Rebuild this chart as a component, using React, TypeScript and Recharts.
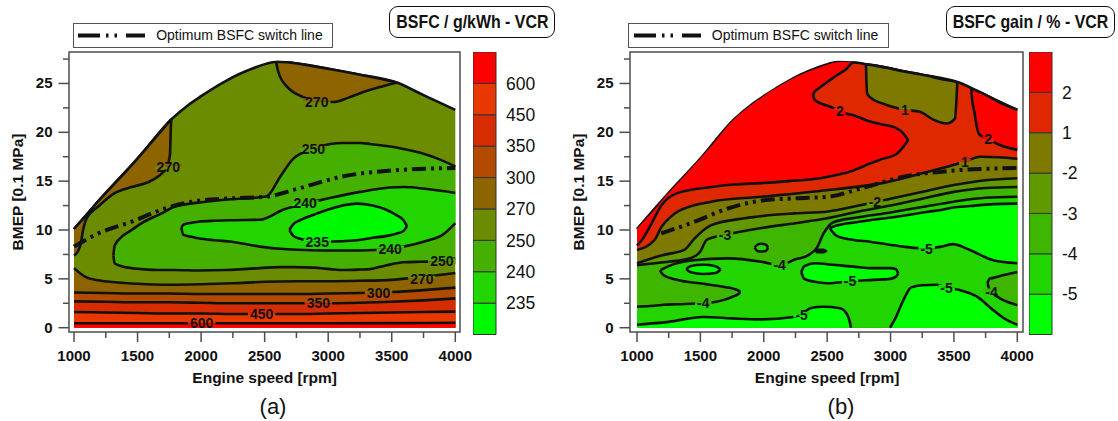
import { Area, Bar, BarChart, ComposedChart, Line, ReferenceArea, Scatter, XAxis, YAxis } from "recharts";

const FONT = "'Liberation Sans', Arial, sans-serif";
const INK = "#111111";
const AXIS_GREY = "#4d4d4d";
const CONTOUR_W = 2.6;

type Pt = [number, number];
type Band = [number, number, number];
type Tag = [string, number, number, string, string];

// axes
const RPM_TICKS = [1000, 1250, 1500, 1750, 2000, 2250, 2500, 2750, 3000, 3250, 3500, 3750, 4000];
const BMEP_TICKS = [0, 2.5, 5, 7.5, 10, 12.5, 15, 17.5, 20, 22.5, 25, 27.5];
const BMEP_DOMAIN: [number, number] = [-0.44, 28.22];
const RPM_DOMAIN_A: [number, number] = [960.7, 4037];
const RPM_DOMAIN_B: [number, number] = [944.8, 4045];

// full load curve, shared by both maps
const ENVELOPE: Pt[] = [
  [1000, 10.1], [1250, 13.8], [1500, 17.3], [1763, 21.3], [1900, 22.8], [2000, 23.7], [2200, 25.3],
  [2400, 26.5], [2590, 27.2], [2700, 27.15], [2850, 26.85], [3000, 26.5], [3250, 25.9], [3540, 25.1],
  [3750, 23.8], [4000, 22.3],
];
const SWITCH_LINE: Pt[] = [
  [1000, 8.3], [1191, 9.65], [1454, 10.85], [1716, 12.2], [1979, 13.0], [2250, 13.25], [2507, 13.4],
  [2753, 14.2], [3120, 15.5], [3514, 16.1], [4000, 16.35],
];

// (a) BSFC g/kWh
const A_LEVELS = ["235", "240", "250", "270", "300", "350", "450", "600"];
const A_BAR_TICKS = [1, 2, 3, 4, 5, 6, 7, 8];
const A_C270: Pt[] = [
  [1000, 6.1], [1090, 5.2], [1190, 4.85], [1500, 4.5], [1750, 4.4], [2000, 4.45], [2250, 4.55], [2500, 4.7],
  [2750, 4.75], [3000, 4.75], [3250, 4.8], [3500, 4.9], [3750, 5.2], [4000, 5.6],
];
const A_C300: Pt[] = [
  [1000, 3.6], [1250, 3.55], [1500, 3.5], [1750, 3.5], [2000, 3.45], [2250, 3.45], [2500, 3.45],
  [2750, 3.45], [3000, 3.5], [3250, 3.55], [3500, 3.65], [3750, 3.85], [4000, 4.1],
];
const A_C350: Pt[] = [
  [1000, 2.7], [1250, 2.65], [1500, 2.6], [1750, 2.6], [2000, 2.55], [2250, 2.5], [2500, 2.5],
  [2750, 2.5], [3000, 2.5], [3250, 2.55], [3500, 2.65], [3750, 2.8], [4000, 3.0],
];
const A_C450: Pt[] = [
  [1000, 1.6], [1250, 1.55], [1500, 1.5], [1750, 1.45], [2000, 1.45], [2250, 1.4], [2500, 1.4],
  [2750, 1.4], [3000, 1.45], [3250, 1.5], [3500, 1.55], [3750, 1.6], [4000, 1.65],
];
const A_C600: Pt[] = [
  [1000, 0.45], [1500, 0.45], [2000, 0.45], [2500, 0.45], [3000, 0.45], [3500, 0.47], [4000, 0.5],
];
const A_LOWSPEED_270: Band[] = [
  [1000, 7.4, 10.1], [1030, 7.8, 10.55], [1055, 8.7, 10.9], [1070, 9.9, 11.1], [1100, 11.2, 11.55],
  [1191, 12.4, 12.95], [1323, 13.8, 14.8], [1454, 14.4, 16.65], [1585, 14.9, 18.6], [1664, 15.5, 19.8],
  [1730, 16.4, 20.8], [1755, 17.7, 21.2], [1762, 20.5, 21.3], [1766, 21.34, 21.34],
];
const A_TOP_270: Band[] = [
  [2590, 27.2, 27.2], [2605, 26.3, 27.2], [2621, 25.7, 27.2], [2674, 24.7, 27.17], [2805, 23.6, 26.95],
  [2914, 23.2, 26.7], [3041, 23.1, 26.4], [3150, 23.5, 26.15], [3251, 24.0, 25.9], [3400, 24.6, 25.5],
  [3540, 25.1, 25.1],
];
const A_UNDER_250: Band[] = [
  [1310, 7.4, 7.4], [1320, 6.6, 8.4], [1375, 6.3, 9.3], [1454, 6.1, 10.0], [1533, 6.0, 10.7],
  [1690, 5.9, 11.7], [1795, 5.9, 12.4], [1979, 5.85, 12.8], [2189, 5.9, 13.1], [2464, 6.1, 13.35],
  [2517, 6.15, 13.45], [2620, 6.2, 15.4], [2726, 6.2, 17.3], [2883, 6.15, 18.3], [3015, 6.0, 18.8],
  [3120, 5.9, 18.9], [3251, 5.95, 18.9], [3330, 6.0, 18.8], [3461, 6.4, 18.6], [3592, 6.7, 18.3],
  [3724, 6.75, 17.9], [3881, 6.8, 17.2], [4000, 7.1, 16.5],
];
const A_UNDER_240: Band[] = [
  [1845, 10.2, 10.2], [1861, 9.5, 10.55], [1927, 9.3, 10.75], [1979, 9.15, 10.85], [2110, 8.95, 10.95],
  [2241, 8.8, 11.0], [2464, 8.3, 11.05], [2650, 8.05, 12.1], [2818, 7.95, 12.7], [2989, 7.9, 13.2],
  [3251, 7.9, 13.9], [3487, 8.1, 14.35], [3592, 8.3, 14.4], [3776, 8.9, 14.2], [3900, 9.5, 14.0],
  [4000, 10.7, 13.8],
];
const A_UNDER_235: Band[] = [
  [2695, 10.0, 10.0], [2726, 9.4, 10.6], [2779, 9.1, 11.0], [2914, 8.8, 11.7], [2989, 8.8, 12.05],
  [3225, 8.95, 12.7], [3350, 9.2, 12.5], [3461, 9.4, 12.05], [3540, 9.65, 11.5], [3592, 9.9, 11.0],
  [3620, 10.4, 10.4],
];
const A_TAGS: Tag[] = [
  ["270", 1742, 16.5, "b270", "b250"], ["270", 2910, 23.15, "b270", "b250"], ["250", 2884, 18.3, "b250", "b240"],
  ["240", 2818, 12.75, "b240", "b235"], ["235", 2914, 8.8, "lt235", "b235"], ["240", 3488, 8.1, "b235", "b240"],
  ["250", 3894, 6.8, "b240", "b250"], ["270", 3737, 5.0, "b250", "b270"], ["300", 3396, 3.55, "b270", "b300"],
  ["350", 2923, 2.5, "b300", "b350"], ["450", 2477, 1.4, "b350", "b450"], ["600", 2005, 0.45, "b450", "gt600"],
];
const A_PALETTE: Record<string, string> = {
  lt235: "#00f800", b235: "#22d400", b240: "#46b000", b250: "#6c8c00", b270: "#8e6400",
  b300: "#b24a00", b350: "#d62c00", b450: "#e83800", gt600: "#ff0000",
};
const A_BAR_COLORS = ["lt235", "b235", "b240", "b250", "b270", "b300", "b350", "b450", "gt600"];

// (b) BSFC gain %
const B_LEVELS = ["-5", "-4", "-3", "-2", "1", "2"];
const B_BAR_TICKS = [1, 2, 3, 4, 5, 6];
const B_RED: Band[] = [
  [1000, 8.4, 10.1], [1040, 9.0, 10.7], [1087, 10.0, 11.35], [1140, 11.3, 12.1], [1192, 12.5, 12.95],
  [1323, 13.8, 14.8], [1586, 14.4, 18.6], [1763, 14.65, 21.3], [1981, 14.8, 23.55], [2200, 15.0, 25.3],
  [2444, 15.3, 26.65], [2600, 15.7, 27.2], [2706, 16.1, 27.15], [2838, 16.8, 21.1], [2917, 17.2, 20.85],
  [3049, 17.8, 20.4], [3100, 18.5, 19.9], [3140, 19.2, 19.2],
];
const B_GAIN2_LOWER: Pt[] = [
  [1000, 8.4], [1040, 9.0], [1087, 10.0], [1140, 11.3], [1192, 12.5], [1323, 13.8], [1586, 14.4],
  [1763, 14.65], [1981, 14.8], [2200, 15.0], [2444, 15.3], [2600, 15.7], [2706, 16.1], [2838, 16.8],
  [2917, 17.2], [3049, 17.8], [3100, 18.5], [3140, 19.2],
];
const B_TONGUE: Band[] = [
  [2388, 23.8, 23.8], [2400, 23.35, 24.15], [2428, 23.1, 24.45], [2507, 22.7, 25.2], [2549, 22.5, 25.6],
  [2654, 21.9, 26.5], [2706, 21.75, 27.15], [2838, 21.1, 26.9], [2917, 20.85, 26.75], [3049, 20.4, 26.4],
  [3100, 19.9, 26.25], [3140, 19.2, 26.15],
];
const B_ISLAND_1: Band[] = [
  [2806, 26.95, 26.95], [2815, 24.0, 26.93], [2838, 23.6, 26.9], [2969, 22.8, 26.6], [3114, 22.3, 26.2],
  [3232, 22.1, 25.95], [3337, 21.3, 25.65], [3442, 20.9, 25.35], [3508, 21.4, 25.2], [3520, 23.3, 25.15],
  [3527, 25.13, 25.13],
];
const B_RIGHT_2: Band[] = [
  [3636, 24.5, 24.5], [3645, 23.2, 24.45], [3660, 22.2, 24.35], [3680, 20.6, 24.25], [3700, 19.8, 24.15],
  [3771, 19.3, 23.7], [3863, 18.7, 23.05], [4000, 18.2, 22.3],
];
const B_C1: Pt[] = [
  [1000, 7.95], [1140, 9.0], [1192, 10.3], [1271, 11.4], [1323, 11.9], [1586, 12.9], [1981, 13.4],
  [2444, 14.0], [2969, 14.9], [3250, 15.8], [3495, 16.65], [3587, 17.0], [3706, 17.5], [3850, 17.45],
  [4000, 17.3],
];
const B_CM2: Pt[] = [
  [1000, 6.6], [1192, 7.4], [1376, 8.0], [1455, 9.15], [1586, 10.5], [1849, 11.2], [2000, 11.45],
  [2244, 11.7], [2507, 11.9], [2750, 12.5], [3000, 13.2], [3250, 13.9], [3500, 14.6], [3750, 15.1],
  [4000, 15.3],
];
const B_CM3: Pt[] = [
  [1000, 6.4], [1100, 6.55], [1250, 6.75], [1420, 7.1], [1500, 7.8], [1550, 9.0], [1694, 9.5],
  [1981, 10.2], [2250, 10.7], [2500, 11.2], [2750, 11.9], [3000, 12.5], [3250, 13.2], [3500, 13.9],
  [3750, 14.3], [4000, 14.4],
];
const B_CM4_LEFT: Pt[] = [[1000, 2.15], [1100, 2.22], [1181, 2.3]];
const B_CM4_UPPER: Pt[] = [
  [1187, 5.9], [1250, 6.3], [1444, 6.9], [1718, 7.1], [1981, 6.75], [2125, 6.4], [2250, 7.0],
  [2349, 7.4], [2420, 8.2], [2470, 9.6], [2550, 10.8], [2750, 11.3], [3000, 11.8], [3250, 12.35],
  [3500, 12.9], [3750, 13.3], [4000, 13.4],
];
const B_HOOK_M4: Band[] = [
  [1181, 2.3, 5.9], [1208, 2.35, 5.4], [1313, 2.4, 4.9], [1523, 2.5, 4.5], [1576, 2.55, 4.4],
  [1700, 2.9, 4.15], [1760, 3.2, 4.0], [1800, 3.45, 3.8], [1815, 3.65, 3.65],
];
const B_LOW_LEFT_M5: Pt[] = [
  [1000, 0.3], [1250, 0.6], [1523, 1.1], [1750, 0.95], [1970, 0.85], [2233, 1.1], [2300, 1.35],
  [2365, 2.0], [2470, 2.15], [2601, 2.0], [2660, 1.3], [2680, 0.5], [2688, 0.0],
];
const B_LOW_RIGHT_M5: Pt[] = [
  [2996, 0.0], [3040, 1.0], [3080, 2.2], [3120, 3.3], [3160, 4.1], [3250, 4.35], [3364, 4.4],
  [3442, 4.1], [3547, 3.85], [3679, 3.2], [3810, 1.8], [3916, 0.8], [4000, 0.3],
];
const B_POCKET_M4: Band[] = [
  [3765, 4.55, 4.55], [3780, 3.9, 5.0], [3810, 3.5, 5.1], [3863, 3.0, 5.3], [3930, 2.6, 5.5], [4000, 2.3, 5.7],
];
const B_MID_M5: Band[] = [
  [2296, 5.7, 5.7], [2320, 5.0, 6.3], [2402, 4.7, 6.6], [2500, 4.55, 6.5], [2706, 4.8, 6.25],
  [2864, 4.9, 6.1], [2996, 5.0, 6.1], [3040, 5.2, 6.0], [3061, 5.55, 5.55],
];
const B_HIGH_M5: Band[] = [
  [2520, 10.2, 10.2], [2575, 9.4, 10.45], [2700, 9.0, 10.75], [2838, 8.8, 11.0], [3101, 8.3, 11.45],
  [3285, 8.1, 11.85], [3400, 8.3, 12.05], [3495, 8.55, 12.3], [3627, 7.95, 12.45], [3811, 6.9, 12.65],
  [4000, 6.6, 12.7],
];
const B_SPOT_M5: Band[] = [[1389, 6.0, 6.0], [1420, 5.7, 6.3], [1521, 5.5, 6.45], [1620, 5.6, 6.3], [1660, 5.95, 5.95]];
const B_SPOT_M4: Band[] = [[1928, 8.2, 8.2], [1950, 7.85, 8.5], [1981, 7.8, 8.6], [2015, 7.85, 8.5], [2035, 8.2, 8.2]];
const B_BLOB: Band[] = [[2400, 7.85, 7.85], [2420, 7.6, 8.1], [2470, 7.6, 8.1], [2505, 7.85, 7.85]];
const B_TAGS: Tag[] = [
  ["2", 2601, 22.2, "p1", "gt2"], ["1", 3114, 22.3, "m2", "p1"], ["2", 3771, 19.3, "gt2", "p1"],
  ["1", 3587, 17.0, "p1", "m2"], ["-2", 2877, 12.85, "m2", "m3"], ["-3", 1694, 9.5, "m3", "m4"],
  ["-4", 2125, 6.4, "m4", "m5"], ["-4", 1523, 2.5, "m4", "m5"], ["-5", 2299, 1.35, "m5", "ltm5"],
  ["-5", 3285, 8.1, "ltm5", "m5"], ["-5", 2680, 4.75, "ltm5", "m5"], ["-5", 3442, 4.1, "m5", "ltm5"],
  ["-4", 3797, 3.7, "m4", "m5"],
];
const B_PALETTE: Record<string, string> = {
  ltm5: "#00ff00", m5: "#22d400", m4: "#3eb600", m3: "#5e9a00", m2: "#7e7a00", p1: "#e02800", gt2: "#ff0000",
};
const B_BAR_COLORS = ["ltm5", "m5", "m4", "m3", "m2", "p1", "gt2"];

type Layer = { pts?: Pt[]; band?: Band[]; fill: string; outline: boolean };
type Trace = { pts: Pt[]; dash?: string };

const toPts = (p: Pt[]) => p.map(([x, y]) => ({ x, y }));
const toBand = (b: Band[]) => b.map(([x, lo, hi]) => ({ x, r: [lo, hi] }));

function XTick(props: any) {
  const { x, y, payload } = props;
  const major = payload.value % 500 === 0;
  return (
    <g>
      <line x1={x} x2={x} y1={y} y2={y + (major ? 10 : 6)} stroke={AXIS_GREY} strokeWidth={1.5} />
      {major && (
        <text x={x} y={y + 29} textAnchor="middle" fontSize={15} fontWeight="bold" fontFamily={FONT} fill={INK}>
          {payload.value}
        </text>
      )}
    </g>
  );
}

function YTick(props: any) {
  const { x, y, payload } = props;
  const major = payload.value % 5 === 0;
  return (
    <g>
      <line x1={x - (major ? 10.5 : 6)} x2={x} y1={y} y2={y} stroke={AXIS_GREY} strokeWidth={1.5} />
      {major && (
        <text x={x - 16.5} y={y + 5} textAnchor="end" fontSize={15} fontWeight="bold" fontFamily={FONT} fill={INK}>
          {payload.value}
        </text>
      )}
    </g>
  );
}

function TagMark(props: any) {
  const { cx, cy, payload } = props;
  if (cx == null || cy == null) return <g />;
  const w = [...payload.t].reduce((s: number, ch: string) => s + (ch === "-" ? 4.7 : 7.8), 0) + 4;
  return (
    <g>
      <rect x={cx - w / 2} y={cy - 3} width={w} height={3} fill={payload.up} />
      <rect x={cx - w / 2} y={cy} width={w} height={3} fill={payload.dn} />
      <text x={cx} y={cy + 5} textAnchor="middle" fontSize={14} fontWeight="bold" fontFamily={FONT} fill={INK}>
        {payload.t}
      </text>
    </g>
  );
}

type MapProps = {
  left: number;
  width: number;
  yAxisWidth: number;
  marginRight: number;
  domain: [number, number];
  layers: Layer[];
  traces: Trace[];
  tags: Tag[];
  palette: Record<string, string>;
};

function ContourMap({ left, width, yAxisWidth, marginRight, domain, layers, traces, tags, palette }: MapProps) {
  const tagData = tags.map(([t, x, y, up, dn]) => ({ x, y, t, up: palette[up], dn: palette[dn] }));
  return (
    <div style={{ position: "absolute", left, top: 0 }}>
      <ComposedChart width={width} height={421} margin={{ top: 52, right: marginRight, bottom: 0, left: 0 }}>
        <XAxis
          dataKey="x"
          type="number"
          domain={domain}
          allowDataOverflow
          ticks={RPM_TICKS}
          interval={0}
          tick={(p: any) => <XTick {...p} />}
          tickLine={false}
          axisLine={false}
          tickSize={0}
          tickMargin={0}
          height={89}
        />
        <YAxis
          dataKey="y"
          type="number"
          domain={BMEP_DOMAIN}
          allowDataOverflow
          ticks={BMEP_TICKS}
          interval={0}
          tick={(p: any) => <YTick {...p} />}
          tickLine={false}
          axisLine={false}
          tickSize={0}
          tickMargin={0}
          width={yAxisWidth}
        />
        <ReferenceArea
          x1={domain[0]}
          x2={domain[1]}
          y1={BMEP_DOMAIN[0]}
          y2={BMEP_DOMAIN[1]}
          fill="none"
          stroke={AXIS_GREY}
          strokeWidth={1.5}
          ifOverflow="visible"
        />
        {layers.map((l, i) =>
          l.band ? (
            <Area
              key={`a${i}`}
              data={toBand(l.band)}
              dataKey="r"
              type="monotone"
              fill={l.fill}
              fillOpacity={1}
              stroke={l.outline ? INK : "none"}
              strokeWidth={CONTOUR_W}
              dot={false}
              activeDot={false}
              isAnimationActive={false}
            />
          ) : (
            <Area
              key={`a${i}`}
              data={toPts(l.pts || [])}
              dataKey="y"
              type="monotone"
              fill={l.fill}
              fillOpacity={1}
              stroke={l.outline ? INK : "none"}
              strokeWidth={CONTOUR_W}
              dot={false}
              activeDot={false}
              isAnimationActive={false}
            />
          )
        )}
        {traces.map((t, i) => (
          <Line
            key={`t${i}`}
            data={toPts(t.pts)}
            dataKey="y"
            type="monotone"
            stroke={INK}
            strokeWidth={t.dash ? 4 : CONTOUR_W}
            strokeDasharray={t.dash}
            dot={false}
            activeDot={false}
            isAnimationActive={false}
          />
        ))}
        <Scatter data={tagData} dataKey="y" shape={(p: any) => <TagMark {...p} />} isAnimationActive={false} />
      </ComposedChart>
    </div>
  );
}

function ColorBar({ left, colors, labels, ticks }: { left: number; colors: string[]; labels: string[]; ticks: number[] }) {
  const row: Record<string, number> = {};
  colors.forEach((_, i) => (row[`s${i}`] = 1));
  return (
    <div style={{ position: "absolute", left, top: 52.3 }}>
      <BarChart width={83} height={282.5} data={[row]} margin={{ top: 0, right: 0, bottom: 0, left: 0 }} barCategoryGap={0}>
        <XAxis hide />
        <YAxis
          orientation="right"
          type="number"
          domain={[0, colors.length]}
          ticks={ticks}
          interval={0}
          tickFormatter={(v: number) => labels[v - 1]}
          width={60}
          axisLine={false}
          tickLine={false}
          tickMargin={4}
          tick={{ fontSize: 17.5, fill: INK, fontFamily: FONT }}
        />
        {colors.map((c, i) => (
          <Bar key={c} dataKey={`s${i}`} stackId="c" fill={c} stroke="#333" strokeWidth={1} isAnimationActive={false} />
        ))}
      </BarChart>
    </div>
  );
}

function LegendBox({ left, width }: { left: number; width: number }) {
  return (
    <div
      style={{
        position: "absolute", left, top: 22.7, width, height: 25.6, boxSizing: "border-box",
        border: "1px solid #555", background: "#fff",
      }}
    >
      <svg width={70} height={24} style={{ position: "absolute", left: 3.5, top: 0 }}>
        <line x1={1} x2={68} y1={11.6} y2={11.6} stroke={INK} strokeWidth={4} strokeDasharray="22 6 2.5 6 2.5 9" />
      </svg>
      <div style={{ position: "absolute", left: 82.5, top: 3, fontSize: 14, fontFamily: FONT, color: INK, whiteSpace: "nowrap" }}>
        Optimum BSFC switch line
      </div>
    </div>
  );
}

function TitleBox({ left, width, text }: { left: number; width: number; text: string }) {
  return (
    <div
      style={{
        position: "absolute", left, top: 5.7, width, height: 32.6, boxSizing: "border-box",
        border: "1.5px solid #111", borderRadius: 9, display: "flex", alignItems: "center",
        justifyContent: "center", background: "#fff", overflow: "visible",
      }}
    >
      <span
        style={{
          display: "inline-block", transform: "scaleX(0.86)", fontFamily: FONT, fontWeight: 700,
          fontSize: 18.5, color: INK, whiteSpace: "nowrap",
        }}
      >
        {text}
      </span>
    </div>
  );
}

function AxisTitles({ xCentre, yCentre, caption, captionX }: { xCentre: number; yCentre: number; caption: string; captionX: number }) {
  return (
    <>
      <div
        style={{
          position: "absolute", left: xCentre, top: 377.5, transform: "translate(-50%, -50%)",
          fontWeight: 700, fontSize: 15.5, fontFamily: FONT, whiteSpace: "nowrap", color: INK,
        }}
      >
        Engine speed [rpm]
      </div>
      <div
        style={{
          position: "absolute", left: yCentre, top: 191.5, transform: "translate(-50%, -50%) rotate(-90deg)",
          fontWeight: 700, fontSize: 15.5, fontFamily: FONT, whiteSpace: "nowrap", color: INK,
        }}
      >
        BMEP [0.1 MPa]
      </div>
      <div
        style={{
          position: "absolute", left: captionX, top: 407, transform: "translate(-50%, -50%)",
          fontSize: 22, fontFamily: FONT, whiteSpace: "nowrap", color: INK,
        }}
      >
        {caption}
      </div>
    </>
  );
}

export default function App() {
  const A = A_PALETTE;
  const B = B_PALETTE;
  const layersA: Layer[] = [
    { pts: ENVELOPE, fill: A.b250, outline: true },
    { pts: A_C270, fill: A.b270, outline: true },
    { pts: A_C300, fill: A.b300, outline: true },
    { pts: A_C350, fill: A.b350, outline: true },
    { pts: A_C450, fill: A.b450, outline: true },
    { pts: A_C600, fill: A.gt600, outline: true },
    { band: A_LOWSPEED_270, fill: A.b270, outline: true },
    { band: A_TOP_270, fill: A.b270, outline: true },
    { band: A_UNDER_250, fill: A.b240, outline: true },
    { band: A_UNDER_240, fill: A.b235, outline: true },
    { band: A_UNDER_235, fill: A.lt235, outline: true },
  ];
  const layersB: Layer[] = [
    { pts: ENVELOPE, fill: B.p1, outline: true },
    { band: B_RED, fill: B.gt2, outline: false },
    { band: B_TONGUE, fill: B.p1, outline: true },
    { band: B_ISLAND_1, fill: B.m2, outline: true },
    { band: B_RIGHT_2, fill: B.gt2, outline: true },
    { pts: B_C1, fill: B.m2, outline: true },
    { pts: B_CM2, fill: B.m3, outline: true },
    { pts: B_CM3, fill: B.m4, outline: true },
    { pts: [...B_CM4_LEFT, ...B_CM4_UPPER], fill: B.m5, outline: false },
    { pts: B_LOW_LEFT_M5, fill: B.ltm5, outline: true },
    { pts: B_LOW_RIGHT_M5, fill: B.ltm5, outline: true },
    { band: B_MID_M5, fill: B.ltm5, outline: true },
    { band: B_HIGH_M5, fill: B.ltm5, outline: true },
    { band: B_HOOK_M4, fill: B.m4, outline: true },
    { band: B_SPOT_M5, fill: B.ltm5, outline: true },
    { band: B_SPOT_M4, fill: B.m5, outline: true },
    { band: B_POCKET_M4, fill: B.m4, outline: true },
    { band: B_BLOB, fill: INK, outline: false },
  ];
  const dash = "14 5 3 5 3 5";

  return (
    <div style={{ position: "absolute", left: 0, top: 0, width: 1118, height: 421, background: "#fff", overflow: "hidden", fontFamily: FONT }}>
      <ContourMap
        left={0}
        width={560}
        yAxisWidth={69}
        marginRight={100}
        domain={RPM_DOMAIN_A}
        layers={layersA}
        traces={[{ pts: SWITCH_LINE, dash }]}
        tags={A_TAGS}
        palette={A}
      />
      <ContourMap
        left={560}
        width={558}
        yAxisWidth={70}
        marginRight={95}
        domain={RPM_DOMAIN_B}
        layers={layersB}
        traces={[
          { pts: B_GAIN2_LOWER },
          { pts: B_CM4_LEFT },
          { pts: B_CM4_UPPER },
          { pts: SWITCH_LINE.slice(1), dash },
        ]}
        tags={B_TAGS}
        palette={B}
      />
      <ColorBar left={473.3} colors={A_BAR_COLORS.map((k) => A[k])} labels={A_LEVELS} ticks={A_BAR_TICKS} />
      <ColorBar left={1029.3} colors={B_BAR_COLORS.map((k) => B[k])} labels={B_LEVELS} ticks={B_BAR_TICKS} />
      <LegendBox left={72.7} width={260.6} />
      <LegendBox left={628.3} width={261} />
      <TitleBox left={389.3} width={165.4} text="BSFC / g/kWh - VCR" />
      <TitleBox left={946} width={168.7} text="BSFC gain / % - VCR" />
      <AxisTitles xCentre={264.7} yCentre={17.5} caption="(a)" captionX={273} />
      <AxisTitles xCentre={827.2} yCentre={579.2} caption="(b)" captionX={841} />
    </div>
  );
}
